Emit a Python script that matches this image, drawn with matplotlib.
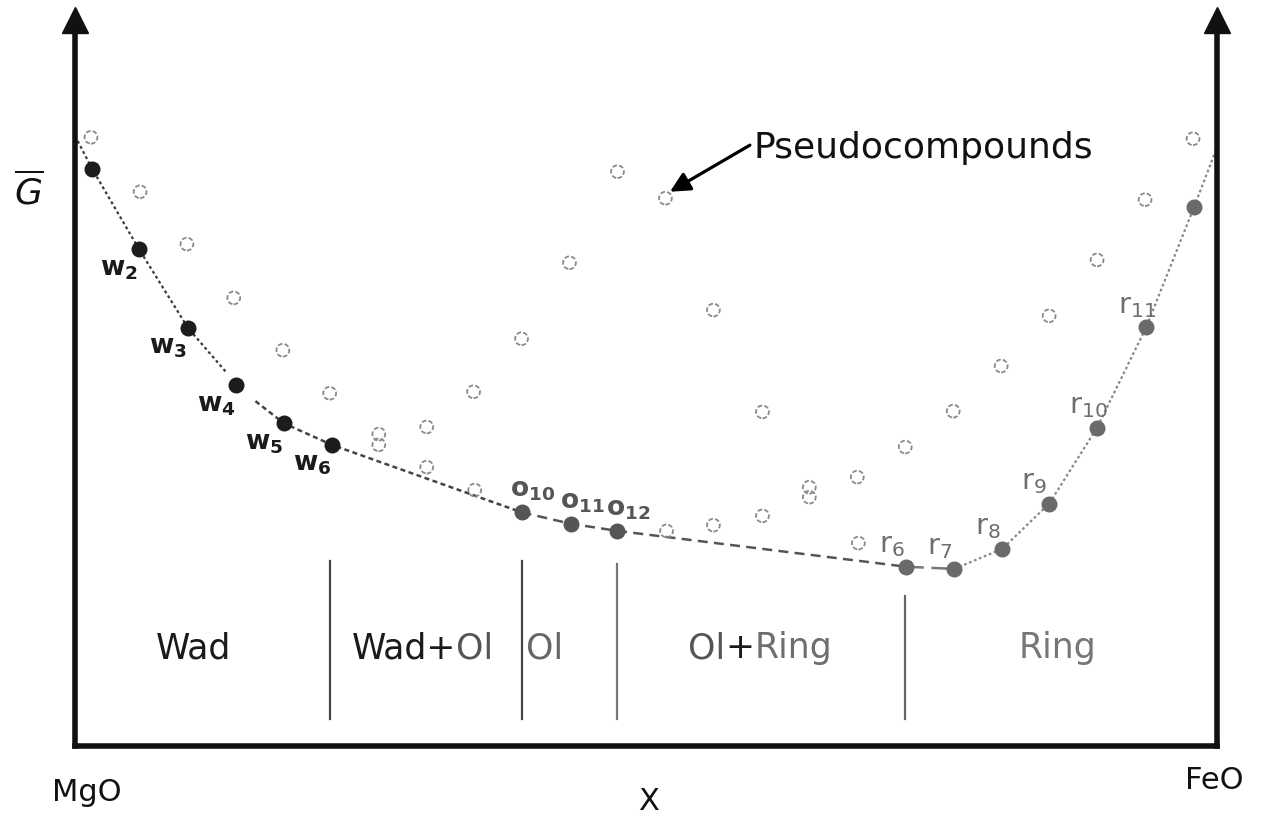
import matplotlib
matplotlib.use("Agg")
import matplotlib.pyplot as plt
from matplotlib.offsetbox import TextArea, HPacker, AnnotationBbox

plt.rcParams['font.family'] = ['DejaVu Sans']
plt.rcParams['mathtext.fontset'] = 'dejavusans'

# ---------------- data (X = mole fraction FeO, G = arbitrary units) ----------------
# stable compounds on the convex hull
w_x = [0.015, 0.056, 0.099, 0.141, 0.183, 0.225]
w_g = [80.5, 69.3, 58.3, 50.3, 45.0, 42.0]
w_sub = [None, '2', '3', '4', '5', '6']

o_x = [0.391, 0.434, 0.475]
o_g = [32.6, 31.0, 30.0]
o_sub = ['10', '11', '12']

r_x = [0.728, 0.770, 0.812, 0.853, 0.895, 0.938, 0.980]
r_g = [25.0, 24.7, 27.5, 33.8, 44.4, 58.4, 75.2]
r_sub = ['6', '7', '8', '9', '10', '11', None]

# curve end points / breaks
curve_start = (0.0, 85.1)
curve_end = (1.0, 83.5)
break_a = (0.132, 52.2)
break_b = (0.158, 48.1)

# metastable pseudocompounds (open circles)
p_x = [0.014, 0.057, 0.098, 0.139, 0.182, 0.223, 0.266, 0.266, 0.308, 0.308,
       0.349, 0.350, 0.391, 0.433, 0.475, 0.517, 0.559, 0.518, 0.559, 0.602,
       0.602, 0.643, 0.643, 0.685, 0.686, 0.727, 0.769, 0.811, 0.853, 0.895,
       0.937, 0.979]
p_g = [84.9, 77.3, 70.0, 62.5, 55.2, 49.2, 43.5, 42.0, 44.5, 38.9,
       49.4, 35.7, 56.8, 67.4, 80.1, 76.4, 60.8, 30.0, 30.8, 46.6,
       32.1, 36.1, 34.7, 37.5, 28.3, 41.7, 46.7, 53.0, 60.0, 67.8,
       76.2, 84.7]

# phase field boundaries
bound_x = [0.223, 0.391, 0.475, 0.727]
bound_top = [25.8, 25.8, 25.4, 20.9]
bound_bot = 3.8
bound_col = ['#444444', '#444444', '#777777', '#666666']

phase_x = [0.104, 0.304, 0.411, 0.600, 0.860]
phase_parts = [[('Wad', '#1a1a1a')],
               [('Wad+', '#1a1a1a'), ('Ol', '#555555')],
               [('Ol', '#666666')],
               [('Ol', '#555555'), ('+', '#1a1a1a'), ('Ring', '#6e6e6e')],
               [('Ring', '#777777')]]
phase_g = 13.8

# ---------------- figure ----------------
W, H = 1263, 820
fig = plt.figure(figsize=(W / 100, H / 100), dpi=100)
ax_l, ax_r, ax_b, ax_t = 75, 1217, 747, 30
ax = fig.add_axes([ax_l / W, (H - ax_b) / H, (ax_r - ax_l) / W, (ax_b - ax_t) / H])
ax.set_xlim(0, 1)
ax.set_ylim(0, 100)
ax.set_xticks([])
ax.set_yticks([])
ax.patch.set_alpha(0)
for s in ['left', 'right', 'bottom']:
    ax.spines[s].set_linewidth(4)
    ax.spines[s].set_color('#111111')
ax.spines['top'].set_visible(False)

# arrow heads of the two vertical axes
ax.plot([0, 1], [101.3, 101.3], ls='none', marker='^', ms=18.5,
        color='#111111', clip_on=False, zorder=6)

# ---------------- curve ----------------
seg1_x = [curve_start[0]] + w_x[:3] + [break_a[0]]
seg1_g = [curve_start[1]] + w_g[:3] + [break_a[1]]
ax.plot(seg1_x, seg1_g, color='#3a3a3a', lw=1.6, dashes=(1.3, 1.3), zorder=2)

seg2_x = [break_b[0]] + w_x[4:] + [o_x[0]]
seg2_g = [break_b[1]] + w_g[4:] + [o_g[0]]
ax.plot(seg2_x, seg2_g, color='#444444', lw=1.8, dashes=(2.0, 1.4), zorder=2)

seg3_x = o_x + [r_x[0]]
seg3_g = o_g + [r_g[0]]
ax.plot(seg3_x, seg3_g, color='#555555', lw=1.8, dashes=(4.0, 2.5), zorder=2)

ax.plot(r_x[:2], r_g[:2], color='#777777', lw=1.8, dashes=(7, 3), zorder=2)

seg5_x = r_x[1:] + [curve_end[0]]
seg5_g = r_g[1:] + [curve_end[1]]
ax.plot(seg5_x, seg5_g, color='#888888', lw=1.6, dashes=(1.2, 1.2), zorder=2)

# ---------------- points ----------------
ax.scatter(p_x, p_g, s=85, facecolors='none', edgecolors='#8a8a8a',
           linewidths=1.3, linestyles=(0, (2.6, 1.2)), zorder=3)
ax.plot(w_x, w_g, 'o', ls='none', ms=10.5, color='#1c1c1c', zorder=4)
ax.plot(o_x, o_g, 'o', ls='none', ms=10.5, color='#555555', zorder=4)
ax.plot(r_x, r_g, 'o', ls='none', ms=10.5, color='#6a6a6a', zorder=4)


def label(xs, gs, subs, letter, off, color, weight, size):
    for x, g, s in zip(xs, gs, subs):
        if s is None:
            continue
        ax.annotate(letter + r'$_{\mathregular{' + s + '}}$', (x, g),
                    xytext=off, textcoords='offset points',
                    ha='left', va='baseline', color=color,
                    fontweight=weight, fontsize=size, zorder=5)


label(w_x, w_g, w_sub, 'w', (-28, -18), '#1a1a1a', 'bold', 19)
label(o_x, o_g, o_sub, 'o', (-8, 12), '#555555', 'bold', 19)
label(r_x, r_g, r_sub, 'r', (-20, 11), '#6e6e6e', 'normal', 21)

# ---------------- phase fields ----------------
for bx, bt, bc in zip(bound_x, bound_top, bound_col):
    ax.plot([bx, bx], [bound_bot, bt], color=bc, lw=1.6, zorder=2)

for px, parts in zip(phase_x, phase_parts):
    areas = [TextArea(t, textprops=dict(fontsize=25, color=c)) for t, c in parts]
    box = HPacker(children=areas, pad=0, sep=0, align='baseline')
    ab = AnnotationBbox(box, (px, phase_g), frameon=False,
                        box_alignment=(0.5, 0.5), pad=0)
    ax.add_artist(ab)

# ---------------- annotations ----------------
ax.text(0.594, 82.1, 'Pseudocompounds', ha='left', va='baseline',
        fontsize=26, color='#111111')
ax.annotate('', xy=(0.521, 77.3), xytext=(0.591, 83.8),
            arrowprops=dict(arrowstyle='-|>', lw=2.3, color='black',
                            mutation_scale=30, shrinkA=0, shrinkB=0))

ax.text(-0.040, 77.5, r'$\overline{G}$', ha='center', va='center',
        fontsize=26, color='#111111', clip_on=False)
ax.text(0.0105, -6.4, 'MgO', ha='center', va='center', fontsize=22,
        color='#111111', clip_on=False)
ax.text(0.502, -7.6, 'X', ha='center', va='center', fontsize=22,
        color='#111111', clip_on=False)
ax.text(0.998, -4.7, 'FeO', ha='center', va='center', fontsize=22,
        color='#111111', clip_on=False)

fig.savefig('out.png', dpi=100)
